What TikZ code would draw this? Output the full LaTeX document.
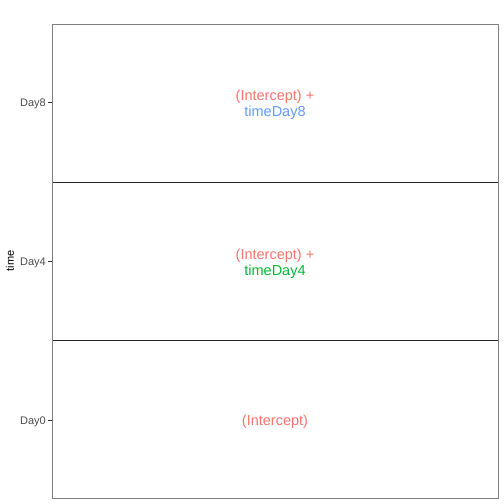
\documentclass[tikz,border=0pt]{standalone}
\usepackage{fontspec}
\setmainfont{Liberation Sans}
\definecolor{gred}{HTML}{F8766D}
\definecolor{ggreen}{HTML}{00BA38}
\definecolor{gblue}{HTML}{619CFF}
\definecolor{axgray}{HTML}{4D4D4D}
\definecolor{tickgray}{HTML}{333333}
\definecolor{bordergray}{HTML}{7F7F7F}
\tikzset{
  lab/.style={font=\fontsize{14.5}{16}\selectfont, inner sep=0pt, align=center},
  ylab/.style={font=\fontsize{11}{12}\selectfont, text=axgray, inner sep=0pt, anchor=east},
  tk/.style={draw=tickgray, line width=0.8pt},
}
\begin{document}
\begin{tikzpicture}[x=1pt,y=-1pt]
\useasboundingbox (0,0) rectangle (504,504);
\fill[white] (0,0) rectangle (504,504);
% panel
\coordinate (tl) at (52,24);
\coordinate (br) at (498,498);
\draw[draw=black!85, line width=0.9pt] (52,182) coordinate (d1l) -- (498,182) coordinate (d1r);
\draw[draw=black!85, line width=0.9pt] (52,340) coordinate (d2l) -- (498,340) coordinate (d2r);
\draw[draw=bordergray, line width=0.9pt] (tl) rectangle (br);
% ticks
\coordinate (t8a) at (48,102); \coordinate (t8b) at (52,102);
\coordinate (t4a) at (48,261); \coordinate (t4b) at (52,261);
\coordinate (t0a) at (48,420); \coordinate (t0b) at (52,420);
\draw[tk] (t8a) -- (t8b);
\draw[tk] (t4a) -- (t4b);
\draw[tk] (t0a) -- (t0b);
\node[ylab] (y8) at (46,103.5) {Day8};
\node[ylab] (y4) at (46,262.5) {Day4};
\node[ylab] (y0) at (46,421.5) {Day0};
\node[font=\fontsize{11}{12}\selectfont, rotate=90, inner sep=0pt] (ytitle) at (10,261) {time};
% labels
\node[lab, text=gred] (a8) at (275,97) {(Intercept) +};
\node[lab, text=gblue] (b8) at (275,113) {timeDay8};
\node[lab, text=gred] (a4) at (275,255.5) {(Intercept) +};
\node[lab, text=ggreen] (b4) at (275,271.5) {timeDay4};
\node[lab, text=gred] (a0) at (275,421.5) {(Intercept)};
\end{tikzpicture}
\end{document}
